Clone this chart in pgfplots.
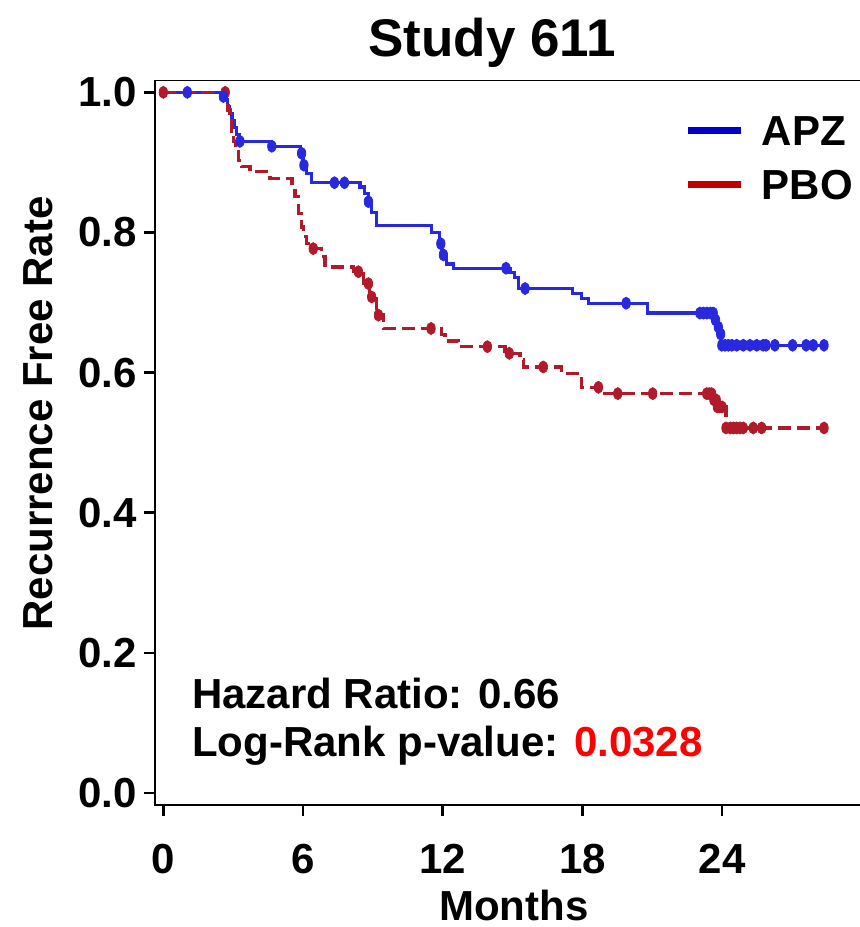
\documentclass[border=0pt]{standalone}
\usepackage{fontspec}
\setmainfont{Liberation Sans}
\usepackage{pgfplots}
\pgfplotsset{compat=1.18}

\definecolor{apzline}{RGB}{40,40,222}
\definecolor{pboline}{RGB}{176,26,42}
\definecolor{apzleg}{RGB}{0,0,200}
\definecolor{pboleg}{RGB}{192,0,0}
\definecolor{pval}{RGB}{255,0,0}

\newcommand{\lab}{\fontsize{21}{25}\selectfont\bfseries}

\begin{document}
\begin{tikzpicture}
% page = 860 x 927 px at 0.5pt per px, axis box lower left at the origin
\useasboundingbox (-77.5pt,-61pt) rectangle (352.5pt,402.5pt);
\begin{axis}[
    scale only axis,
    width=355pt, height=362.15pt,
    xmin=-0.357, xmax=30.14,
    ymin=-0.0171, ymax=1.0166,
    axis line style={black, line width=0.8pt},
    xtick={0,6,12,18,24},
    ytick={0,0.2,0.4,0.6,0.8,1},
    xtick pos=bottom, ytick pos=left,
    tick align=outside,
    major tick length=5.5pt,
    tick style={black, line width=1.3pt},
    tick label style={font=\lab},
    /pgf/number format/assume math mode=true,
    yticklabel style={/pgf/number format/.cd, fixed, fixed zerofill, precision=1},
    xticklabel style={yshift=-10.5pt},
    xlabel={Months},
    ylabel={Recurrence Free Rate},
    label style={font=\lab},
    xlabel style={at={(axis description cs:0.5056,-0.1595)}, anchor=base},
    ylabel style={at={(axis description cs:-0.1648,0.5405)}, anchor=center},
    legend image code/.code={\draw[#1] (0pt,0pt) -- (26.5pt,0pt);},
    legend cell align=left,
    legend style={draw=none, fill=none, font=\lab,
        at={(axis description cs:0.7455,0.9513)}, anchor=north west,
        inner sep=0pt, row sep=12.5pt, column sep=8.5pt,
        nodes={inner sep=0pt, text depth=0pt}},
]
\addlegendimage{apzleg, line width=3.5pt}
\addlegendentry{APZ}
\addlegendimage{pboleg, line width=3.5pt}
\addlegendentry{PBO}

% APZ Kaplan-Meier curve
\addplot[const plot, apzline, line width=1.6pt, forget plot] coordinates {
(0,1)(2.62,0.99)(2.75,0.98)(2.85,0.97)(2.95,0.96)(3.05,0.95)(3.15,0.94)
(3.25,0.930)(4.66,0.923)(5.90,0.913)(6.00,0.896)(6.15,0.884)(6.37,0.871)
(8.45,0.865)(8.65,0.856)(8.80,0.844)(8.95,0.828)(9.17,0.810)(11.53,0.800)
(11.85,0.785)(12.00,0.768)(12.17,0.755)(12.46,0.749)(14.89,0.743)
(15.10,0.736)(15.25,0.720)(17.59,0.713)(17.97,0.706)(18.26,0.699)
(20.79,0.685)(23.65,0.675)(23.80,0.665)(23.92,0.655)(23.98,0.639)
(28.38,0.639)};

% PBO Kaplan-Meier curve
\addplot[const plot, pboline, line width=1.7pt, dash pattern=on 6.5pt off 3pt, forget plot] coordinates {
(0,1)(2.70,0.99)(2.78,0.975)(2.86,0.96)(2.94,0.945)(3.02,0.93)(3.10,0.915)
(3.22,0.903)(3.37,0.894)(3.72,0.887)(4.58,0.877)(5.52,0.870)(5.66,0.851)
(5.80,0.827)(5.94,0.808)(6.01,0.794)(6.16,0.784)(6.30,0.777)(6.80,0.766)
(6.94,0.751)(8.16,0.744)(8.60,0.727)(8.85,0.708)(9.15,0.682)(9.45,0.663)
(11.96,0.654)(12.10,0.645)(12.67,0.637)(14.67,0.6275)(15.32,0.618)
(15.46,0.608)(17.11,0.599)(17.97,0.579)(18.97,0.570)(23.60,0.561)
(23.75,0.551)(24.17,0.521)(28.40,0.521)};

% censored observations
\addplot[only marks, mark=*, mark size=3pt, pboline, mark options={solid, xscale=0.7}, forget plot] coordinates {
(0,1)(2.66,1)(6.44,0.777)(8.38,0.744)(8.81,0.727)(8.95,0.708)(9.24,0.682)
(11.50,0.663)(13.92,0.637)(14.86,0.6275)(16.32,0.608)(18.69,0.579)
(19.52,0.570)(21.02,0.570)(23.34,0.570)(23.45,0.570)(23.55,0.570)
(23.65,0.561)(23.75,0.561)(23.80,0.551)(23.90,0.551)(24.00,0.551)
(24.17,0.521)(24.35,0.521)(24.49,0.521)(24.63,0.521)(24.77,0.521)
(24.91,0.521)(25.34,0.521)(25.70,0.521)(28.38,0.521)};

\addplot[only marks, mark=*, mark size=3pt, apzline, mark options={solid, xscale=0.7}, forget plot] coordinates {
(1.03,1)(2.58,0.994)(3.29,0.930)(4.66,0.923)(5.94,0.913)(6.04,0.896)
(7.35,0.871)(7.78,0.871)(8.81,0.844)(11.92,0.784)(12.03,0.768)
(14.72,0.749)(15.54,0.720)(19.88,0.699)(23.05,0.685)(23.20,0.685)
(23.35,0.685)(23.50,0.685)(23.62,0.685)(23.72,0.675)(23.84,0.665)
(23.94,0.655)(23.99,0.639)(24.13,0.639)(24.27,0.639)(24.42,0.639)
(24.63,0.639)(24.91,0.639)(25.20,0.639)(25.49,0.639)(25.77,0.639)
(25.89,0.639)(26.27,0.639)(27.03,0.639)(27.61,0.639)(27.92,0.639)
(28.38,0.639)};

\draw[black, line width=1.3pt] (rel axis cs:0,0) -- (rel axis cs:1,0);

\node[anchor=base west, inner sep=0pt, font=\lab] at (axis description cs:0.0517,0.1335) {Hazard Ratio: 0.66};
\node[anchor=base west, inner sep=0pt, font=\lab] at (axis description cs:0.0517,0.0667) {Log-Rank p-value: \textcolor{pval}{0.0328}};
\end{axis}
\node[anchor=base, inner sep=0pt, font=\fontsize{26.5}{30}\selectfont\bfseries] at (168.5pt,374pt) {Study 611};
\end{tikzpicture}
\end{document}
